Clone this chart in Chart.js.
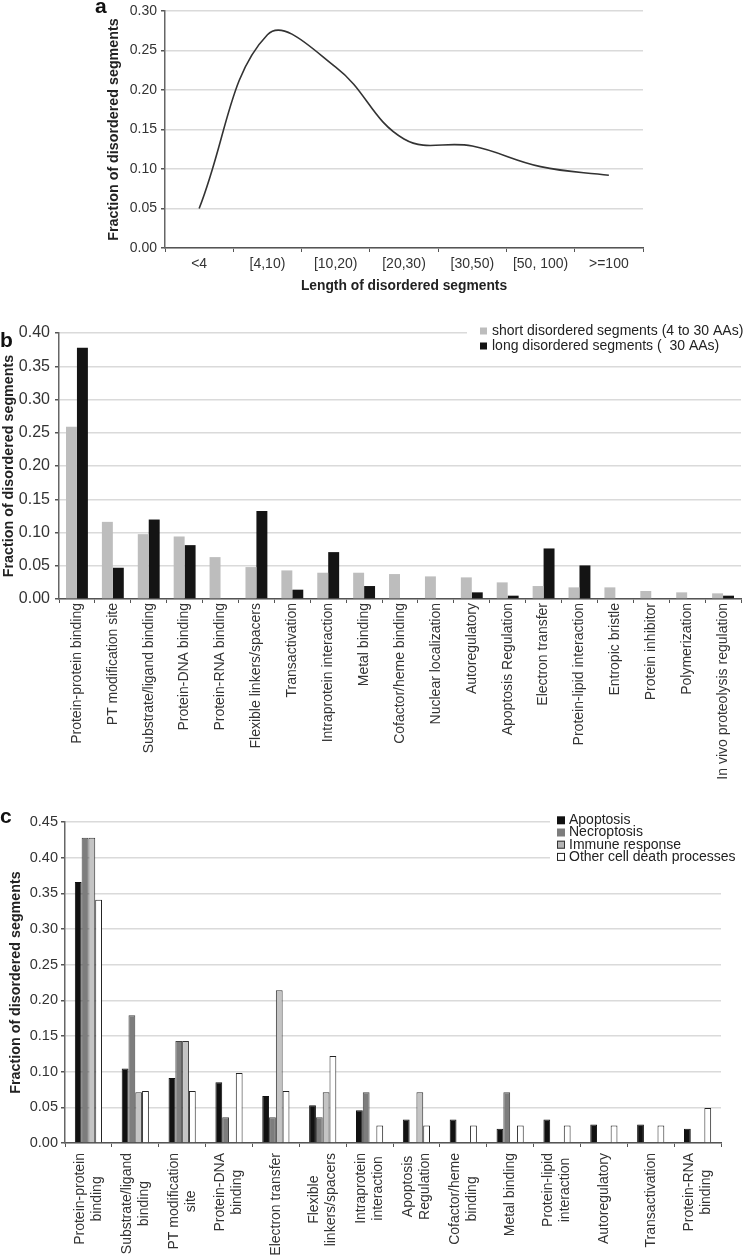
<!DOCTYPE html>
<html>
<head>
<meta charset="utf-8">
<script src="https://cdn.jsdelivr.net/npm/chart.js@4.4.1/dist/chart.umd.min.js"></script>
<style>
  body { margin: 0; background: #fff; }
  canvas { position: absolute; left: 0; }
</style>
</head>
<body>
<canvas id="chartA" width="748" height="300" style="top:0px"></canvas>
<canvas id="chartB" width="748" height="500" style="top:300px"></canvas>
<canvas id="chartC" width="748" height="459" style="top:800px"></canvas>
<script>
// panel a
const aLabels = ['<4', '[4,10)', '[10,20)', '[20,30)', '[30,50)', '[50, 100)', '>=100'];
const aValues = [0.05, 0.27, 0.229, 0.138, 0.129, 0.103, 0.092];

// panel b
const bLabels = ['Protein-protein binding', 'PT modification site', 'Substrate/ligand binding',
    'Protein-DNA binding', 'Protein-RNA binding', 'Flexible linkers/spacers', 'Transactivation',
    'Intraprotein interaction', 'Metal binding', 'Cofactor/heme binding', 'Nuclear localization',
    'Autoregulatory', 'Apoptosis Regulation', 'Electron transfer', 'Protein-lipid interaction',
    'Entropic bristle', 'Protein inhibitor', 'Polymerization', 'In vivo proteolysis regulation'];
const bShort = [0.259, 0.116, 0.0975, 0.094, 0.063, 0.048, 0.043, 0.0395, 0.0395, 0.0375,
    0.034, 0.0325, 0.025, 0.0195, 0.0175, 0.0175, 0.012, 0.01, 0.0085];
const bLong = [0.378, 0.047, 0.1195, 0.081, 0, 0.1325, 0.014, 0.0705, 0.0195, 0,
    0, 0.01, 0.005, 0.076, 0.0505, 0, 0, 0, 0.005];

// panel c
const cLabels = [['Protein-protein', 'binding'], ['Substrate/ligand', 'binding'], ['PT modification', 'site'],
    ['Protein-DNA', 'binding'], ['Electron transfer'], ['Flexible', 'linkers/spacers'],
    ['Intraprotein', 'interaction'], ['Apoptosis', 'Regulation'], ['Cofactor/heme', 'binding'],
    ['Metal binding'], ['Protein-lipid', 'interaction'], ['Autoregulatory'], ['Transactivation'],
    ['Protein-RNA', 'binding']];
const cApoptosis = [0.366, 0.1045, 0.091, 0.085, 0.066, 0.053, 0.046, 0.033, 0.033, 0.020, 0.033, 0.026, 0.026, 0.020];
const cNecroptosis = [0.428, 0.179, 0.143, 0.036, 0.036, 0.036, 0.071, 0, 0, 0.071, 0, 0, 0, 0];
const cImmune = [0.428, 0.071, 0.143, 0, 0.214, 0.071, 0, 0.071, 0, 0, 0, 0, 0, 0];
const cOther = [0.341, 0.073, 0.073, 0.098, 0.073, 0.122, 0.0245, 0.0245, 0.0245, 0.0245, 0.0245, 0.0245, 0.0245, 0.049];

const FONT = "'Liberation Sans', Arial, sans-serif";
Chart.defaults.font.family = FONT;
Chart.defaults.font.size = 14;
Chart.defaults.color = '#333';
Chart.defaults.animation = false;

function yAxis(max, width, labelPad, titlePad, tickSize) {
    return {
        min: 0,
        max: max,
        ticks: {
            stepSize: 0.05,
            padding: labelPad,
            font: { size: tickSize, lineHeight: 1 },
            callback: v => Number(v).toFixed(2)
        },
        grid: { color: '#dadada', lineWidth: 1.5, tickColor: '#555', tickLength: 4 },
        border: { color: '#666', width: 1.5 },
        title: {
            display: true,
            text: 'Fraction of disordered segments',
            color: '#222',
            font: { size: 14.3, weight: 'bold' },
            padding: { top: titlePad, bottom: 0 }
        },
        afterFit: s => { s.width = width; }
    };
}

function xGrid() {
    return { display: true, drawOnChartArea: false, offset: true, tickLength: 4, tickColor: '#555' };
}

function panelLetter(letter, x, y) {
    return {
        id: 'letter_' + letter,
        afterDraw(chart) {
            const ctx = chart.ctx;
            ctx.save();
            ctx.font = 'bold 21px ' + FONT;
            ctx.fillStyle = '#111';
            ctx.textBaseline = 'alphabetic';
            ctx.fillText(letter, x, y);
            ctx.restore();
        }
    };
}

// legend drawn over the top of the plot, with a white patch behind it
function boxLegend(items, area, boxX, boxSize, rows, textX) {
    return {
        id: 'boxLegend',
        afterDraw(chart) {
            const ctx = chart.ctx;
            ctx.save();
            ctx.fillStyle = '#fff';
            ctx.fillRect(area.x, area.y, area.w, area.h);
            ctx.font = '14px ' + FONT;
            ctx.textBaseline = 'middle';
            items.forEach((it, i) => {
                const y = rows[i];
                ctx.fillStyle = it.fill;
                ctx.fillRect(boxX, y - boxSize / 2, boxSize, boxSize);
                if (it.stroke) {
                    ctx.strokeStyle = it.stroke;
                    ctx.lineWidth = 1;
                    ctx.strokeRect(boxX + 0.5, y - boxSize / 2 + 0.5, boxSize - 1, boxSize - 1);
                }
                ctx.fillStyle = '#222';
                ctx.fillText(it.text, textX, y);
            });
            ctx.restore();
        }
    };
}

// multi-line rotated category labels, lines centred on each other
const cTickLabels = {
    id: 'cTickLabels',
    afterDraw(chart) {
        const scale = chart.scales.x;
        const ctx = chart.ctx;
        ctx.save();
        ctx.font = '14px ' + FONT;
        ctx.fillStyle = '#333';
        ctx.textAlign = 'center';
        ctx.textBaseline = 'middle';
        cLabels.forEach((lines, i) => {
            const x = scale.getPixelForTick(i);
            const len = Math.max(...lines.map(l => ctx.measureText(l).width));
            ctx.save();
            ctx.translate(x, scale.top + 10 + len / 2);
            ctx.rotate(-Math.PI / 2);
            lines.forEach((l, j) => ctx.fillText(l, 0, (j - (lines.length - 1) / 2) * 17));
            ctx.restore();
        });
        ctx.restore();
    }
};

new Chart(document.getElementById('chartA'), {
    type: 'line',
    data: {
        labels: aLabels,
        datasets: [{
            data: aValues,
            borderColor: '#333',
            borderWidth: 1.6,
            pointRadius: 0,
            tension: 0.4,
            fill: false
        }]
    },
    options: {
        responsive: false,
        devicePixelRatio: 1,
        layout: { padding: { left: 100, top: 7, right: 105, bottom: 0 } },
        plugins: { legend: { display: false }, tooltip: { enabled: false } },
        scales: {
            x: {
                offset: true,
                grid: xGrid(),
                border: { color: '#555', width: 1.5 },
                ticks: { padding: 4, font: { size: 14 }, autoSkip: false, maxRotation: 0 },
                title: {
                    display: true,
                    text: 'Length of disordered segments',
                    color: '#222',
                    font: { size: 13.8, weight: 'bold' },
                    padding: { top: 0, bottom: 6 }
                },
                afterFit: s => { s.height = 52; }
            },
            y: yAxis(0.30, 65, 4, 5, 14)
        }
    },
    plugins: [panelLetter('a', 95, 13)]
});

new Chart(document.getElementById('chartB'), {
    type: 'bar',
    data: {
        labels: bLabels,
        datasets: [
            { label: 'short disordered segments (4 to 30 AAs)', data: bShort, backgroundColor: '#bdbdbd' },
            { label: 'long disordered segments (  30 AAs)', data: bLong, backgroundColor: '#141414' }
        ]
    },
    options: {
        responsive: false,
        devicePixelRatio: 1,
        layout: { padding: { left: 0, top: 33, right: 7, bottom: 0 } },
        datasets: { bar: { barPercentage: 1, categoryPercentage: 0.61 } },
        plugins: { legend: { display: false }, tooltip: { enabled: false } },
        scales: {
            x: {
                grid: xGrid(),
                border: { color: '#555', width: 1.5 },
                ticks: { padding: 0, autoSkip: false, minRotation: 90, maxRotation: 90, font: { size: 14 } },
                afterFit: s => { s.height = 201; }
            },
            y: yAxis(0.40, 59, 5, 0, 16)
        }
    },
    plugins: [
        panelLetter('b', 0, 47),
        boxLegend([
            { text: 'short disordered segments (4 to 30 AAs)', fill: '#bdbdbd' },
            { text: 'long disordered segments (  30 AAs)', fill: '#141414' }
        ], { x: 467, y: 22, w: 281, h: 32 }, 480, 7, [31, 46], 492)
    ]
});

new Chart(document.getElementById('chartC'), {
    type: 'bar',
    data: {
        labels: cLabels.map(l => l.join(' ')),
        datasets: [
            { label: 'Apoptosis', data: cApoptosis, backgroundColor: '#111', borderColor: '#111', borderWidth: 1 },
            { label: 'Necroptosis', data: cNecroptosis, backgroundColor: '#7d7d7d', borderColor: '#444', borderWidth: 1 },
            { label: 'Immune response', data: cImmune, backgroundColor: '#c4c4c4', borderColor: '#333', borderWidth: 1 },
            { label: 'Other cell death processes', data: cOther, backgroundColor: '#fff', borderColor: '#222', borderWidth: 1 }
        ]
    },
    options: {
        responsive: false,
        devicePixelRatio: 1,
        layout: { padding: { left: 0, top: 22, right: 27, bottom: 0 } },
        datasets: { bar: { barPercentage: 1, categoryPercentage: 0.58 } },
        plugins: { legend: { display: false }, tooltip: { enabled: false } },
        scales: {
            x: {
                grid: xGrid(),
                border: { color: '#555', width: 1.5 },
                ticks: { display: false },
                afterFit: s => { s.height = 116; }
            },
            y: yAxis(0.45, 65, 3, 7, 14.5)
        }
    },
    plugins: [
        panelLetter('c', 0, 23),
        cTickLabels,
        boxLegend([
            { text: 'Apoptosis', fill: '#111' },
            { text: 'Necroptosis', fill: '#7d7d7d' },
            { text: 'Immune response', fill: '#b4b4b4', stroke: '#333' },
            { text: 'Other cell death processes', fill: '#fff', stroke: '#222' }
        ], { x: 550, y: 12, w: 195, h: 53 }, 557, 8, [20.3, 32.5, 44.7, 56.9], 569)
    ]
});
</script>
</body>
</html>
